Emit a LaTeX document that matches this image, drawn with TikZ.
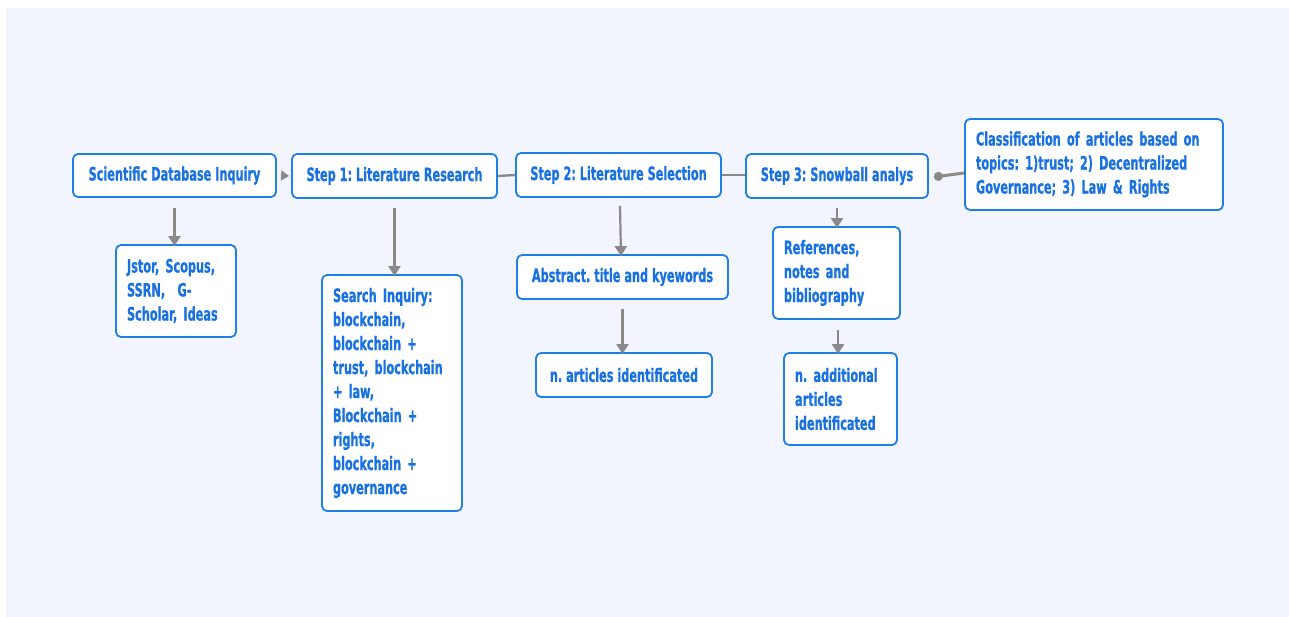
\documentclass[tikz,border=0pt]{standalone}
\usepackage{fontspec}
\newfontfamily\boxfont{DejaVu Sans}[FakeStretch=0.61,FakeBold=0.6]
\usetikzlibrary{arrows.meta}
\definecolor{bgcol}{HTML}{F2F5FD}
\definecolor{boxline}{HTML}{1E80E6}
\definecolor{boxtext}{HTML}{1871E2}
\definecolor{conn}{HTML}{8A8A8A}
\newcommand{\fixspaces}{\spaceskip=\fontdimen2\font\relax\xspaceskip=\fontdimen2\font\relax}
\tikzset{
  x=1pt, y=-1pt,
  box/.style={draw=boxline, line width=1.8pt, fill=white, rounded corners=5pt,
    text=boxtext, font=\boxfont\bfseries\frenchspacing\fontsize{18.5}{24}\selectfont\fixspaces,
    inner xsep=11pt, inner ysep=0pt},
  onebox/.style={box, inner xsep=2pt},
  multibox/.style={box, align=left},
  downarrow/.style={draw=conn, line width=2.2pt, -{Triangle[width=12pt,length=10pt]}},
  link/.style={draw=conn, line width=2.4pt},
}
\begin{document}
\begin{tikzpicture}
\useasboundingbox (0,0) rectangle (1289,617);
\fill[bgcol] (6,8) rectangle (1289,617);

\node[onebox, minimum width=203pt, minimum height=43pt] (sci) at (174.5,175.5) {Scientific Database Inquiry};
\node[onebox, minimum width=205pt, minimum height=44pt] (s1) at (394.5,176) {Step 1: Literature Research};
\node[onebox, minimum width=205pt, minimum height=44pt] (s2) at (618.5,175) {Step 2: Literature Selection};
\node[onebox, minimum width=182pt, minimum height=44pt] (s3) at (837,176) {Step 3: Snowball analys};
\node[multibox, text width=236pt, minimum height=91pt] (cls) at (1094,164.5) {Classification of articles based on\\topics: 1)trust; 2) Decentralized\\Governance; 3) Law \& Rights};

\node[multibox, text width=98pt, minimum height=92pt] (db) at (176,291) {Jstor, Scopus,\\SSRN,\ \ G-\\Scholar, Ideas};
\node[multibox, text width=118pt, minimum height=236pt] (si) at (392,393) {Search Inquiry:\\blockchain,\\blockchain +\\trust, blockchain\\+ law,\\Blockchain +\\rights,\\blockchain +\\governance};
\node[onebox, minimum width=211pt, minimum height=44pt] (abs) at (622.5,277) {Abstract. title and kyewords};
\node[onebox, minimum width=176pt, minimum height=44pt] (nart) at (624,375) {n. articles identificated};
\node[multibox, text width=105pt, minimum height=92pt] (ref) at (836.5,273) {References,\\notes and\\bibliography};
\node[multibox, text width=91pt, minimum height=92pt] (nadd) at (840.5,399) {n. additional\\articles\\identificated};

% connectors
\draw[draw=conn, line width=2pt, -{Triangle[width=10pt,length=8pt]}] ([xshift=4pt]sci.east) -- ([xshift=-2pt]s1.west);
\draw[link] (s1.east) -- (s2.east -| s2.west);
\draw[link] (s2.east) -- (s3.west |- s2.east);
\draw[link, line width=3pt, -{Circle[length=9pt]}] ([yshift=-8.5pt]cls.west) -- ([xshift=5pt,yshift=-1pt]s3.east);

\draw[downarrow] ([yshift=-10pt]sci.south) -- ([yshift=-2pt]sci.south |- db.north);
\draw[downarrow] ([yshift=-9pt]s1.south) -- ([yshift=-2pt]s1.south |- si.north);
\draw[downarrow] ([xshift=1.5pt,yshift=-8pt]s2.south) -- ([xshift=-1.5pt,yshift=-2pt]abs.north);
\draw[downarrow] ([yshift=-9pt]abs.south) -- ([yshift=-2pt]abs.south |- nart.north);
\draw[downarrow] ([yshift=-9pt]s3.south) -- ([yshift=-2pt]s3.south |- ref.north);
\draw[downarrow] ([xshift=1.5pt,yshift=-10pt]ref.south) -- ([xshift=1.5pt,yshift=-2pt]ref.south |- nadd.north);
\end{tikzpicture}
\end{document}
